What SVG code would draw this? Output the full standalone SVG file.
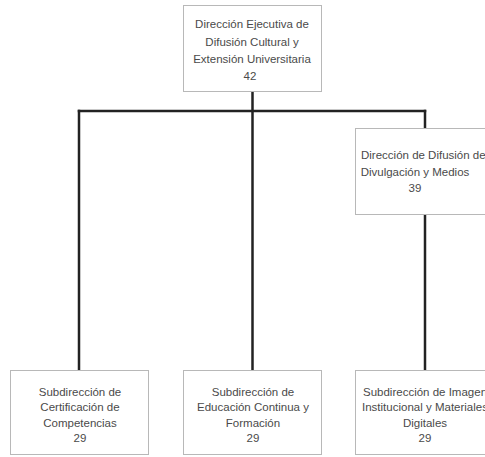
<svg xmlns="http://www.w3.org/2000/svg" width="485" height="457" viewBox="0 0 485 457">
  <style>
    .box { fill: #ffffff; stroke: #b8b8b8; stroke-width: 1; }
    .lbl { font-family: "Liberation Sans", Arial, sans-serif; font-size: 11.5px; fill: #4a4a4a; text-anchor: middle; }
    .wire { stroke: #222222; stroke-width: 2.5; fill: none; stroke-linecap: square; }
  </style>
  <rect width="485" height="457" fill="#ffffff"/>

  <!-- connectors -->
  <g id="connectors">
    <path class="wire" d="M252.5 92 V370"/>
    <path class="wire" d="M79 111 H425"/>
    <path class="wire" d="M79 111 V370"/>
    <path class="wire" d="M425 111 V128"/>
    <path class="wire" d="M425 215 V370"/>
  </g>

  <g id="direccion-ejecutiva">
    <rect class="box" x="183.5" y="5.5" width="138" height="86"/>
    <text class="lbl" x="252" y="28">Dirección Ejecutiva de</text>
    <text class="lbl" x="252" y="46">Difusión Cultural y</text>
    <text class="lbl" x="252" y="63">Extensión Universitaria</text>
    <text class="lbl" x="250" y="80">42</text>
  </g>

  <g id="direccion-difusion">
    <rect class="box" x="355.5" y="128.5" width="140" height="86"/>
    <text class="lbl" x="361" y="159" style="text-anchor:start">Dirección de Difusión de</text>
    <text class="lbl" x="415" y="175.5">Divulgación y Medios</text>
    <text class="lbl" x="415" y="192">39</text>
  </g>

  <g id="sub-certificacion">
    <rect class="box" x="10.5" y="370.5" width="138" height="84"/>
    <text class="lbl" x="80" y="396">Subdirección de</text>
    <text class="lbl" x="80" y="411">Certificación de</text>
    <text class="lbl" x="80" y="427">Competencias</text>
    <text class="lbl" x="80" y="442">29</text>
  </g>

  <g id="sub-educacion">
    <rect class="box" x="183.5" y="370.5" width="138" height="84"/>
    <text class="lbl" x="253" y="396">Subdirección de</text>
    <text class="lbl" x="253" y="411">Educación Continua y</text>
    <text class="lbl" x="253" y="427">Formación</text>
    <text class="lbl" x="253" y="442">29</text>
  </g>

  <g id="sub-imagen">
    <rect class="box" x="355.5" y="370.5" width="140" height="84"/>
    <text class="lbl" x="363" y="396" style="text-anchor:start">Subdirección de Imagen</text>
    <text class="lbl" x="425" y="411">Institucional y Materiales</text>
    <text class="lbl" x="425" y="427">Digitales</text>
    <text class="lbl" x="425" y="442">29</text>
  </g>
</svg>
